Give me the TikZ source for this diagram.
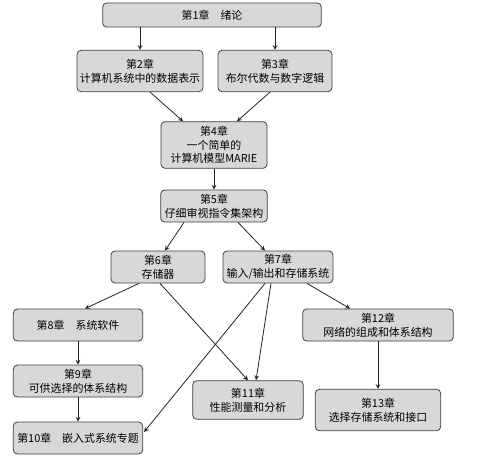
\documentclass[tikz,border=0pt]{standalone}
\usepackage{fontspec}
\setmainfont{Noto Sans CJK SC}
\usepackage{tikz}
\usetikzlibrary{arrows,calc}
\definecolor{grisBox}{RGB}{216,216,216}
\definecolor{grisBord}{RGB}{62,62,62}
\definecolor{grisFleche}{RGB}{35,35,35}

\begin{document}
\begin{tikzpicture}[x=0.75pt, y=-0.75pt,
			box/.style={draw=grisBord, fill=grisBox, rounded corners=3pt, line width=0.6pt,
				align=center, inner sep=1pt, font=\fontsize{8.2}{10.3}\selectfont},
			arrow/.style={->, >=stealth, semithick, color=grisFleche}
			]
			\useasboundingbox (0,0) rectangle (486,462);
			\node[box, minimum width=164pt, minimum height=18pt] (ch1) at (212,15)   {第1章\quad 绪论};
			\node[box, minimum width=94.5pt, minimum height=31pt] (ch2) at (140,71)  {第2章\\计算机系统中的数据表示};
			\node[box, minimum width=85.5pt, minimum height=31pt] (ch3) at (275,71)  {第3章\\布尔代数与数字逻辑};
			\node[box, minimum width=79.5pt, minimum height=35pt] (ch4) at (214,145) {第4章\\一个简单的\\计算机模型MARIE};
			\node[box, minimum width=80pt, minimum height=24pt] (ch5) at (214,206)   {第5章\\仔细审视指令集架构};
			\node[box, minimum width=70.5pt, minimum height=24pt] (ch6) at (158,267) {第6章\\存储器};
			\node[box, minimum width=82.5pt, minimum height=24pt] (ch7) at (278,267) {第7章\\输入/输出和存储系统};
			\node[box, minimum width=97pt, minimum height=24pt] (ch8) at (78,325)    {第8章\quad 系统软件};
			\node[box, minimum width=97pt, minimum height=24pt] (ch9) at (78,381)    {第9章\\可供选择的体系结构};
			\node[box, minimum width=97pt, minimum height=24pt] (ch10) at (78,438)   {第10章\quad 嵌入式系统专题};
			\node[box, minimum width=83pt, minimum height=29pt] (ch11) at (248,400)  {第11章\\性能测量和分析};
			\node[box, minimum width=113pt, minimum height=24pt] (ch12) at (378,325) {第12章\\网络的组成和体系结构};
			\node[box, minimum width=94pt, minimum height=31pt] (ch13) at (378,410)  {第13章\\选择存储系统和接口};
			
			\draw[arrow] (ch1.south -| ch2) -- (ch2);
			\draw[arrow] (ch1.south -| ch3) -- (ch3);
			\draw[arrow] ($(ch2.south)+(10,0)$) -- ($(ch4.north)+(-31,0)$);
			\draw[arrow] ($(ch3.south)+(-5,0)$) -- ($(ch4.north)+(23,0)$);
			\draw[arrow] (ch4) -- (ch5);
			\draw[arrow] ($(ch5.south)+(-30,0)$) -- ($(ch6.north)+(7,0)$);
			\draw[arrow] ($(ch5.south)+(24,0)$) -- ($(ch7.north)+(-13,0)$);
			\draw[arrow] ($(ch6.south)+(-19,0)$) -- ($(ch8.north)+(7,0)$);
			\draw[arrow] ($(ch6.south)+(2,0)$) -- (ch11.north);
			\draw[arrow] ($(ch7.south)+(-13,0)$) -- ($(ch10.east)+(1,-6)$);
			\draw[arrow] ($(ch7.south)+(-7,0)$) -- ($(ch11.north)+(8,0)$);
			\draw[arrow] ($(ch7.south)+(29,0)$) -- ($(ch12.north)+(-28,0)$);
			\draw[arrow] (ch8) -- (ch9);
			\draw[arrow] (ch9) -- (ch10);
			\draw[arrow] (ch12) -- (ch13);
		\end{tikzpicture}
\end{document}
